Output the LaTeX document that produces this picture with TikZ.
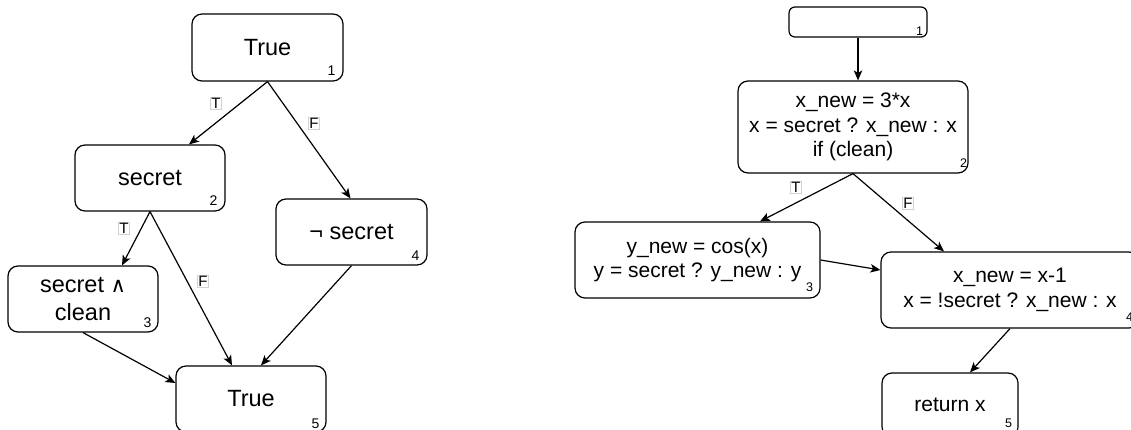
\documentclass[tikz,border=0pt]{standalone}
\usepackage{fontspec}
\setmainfont{Liberation Sans}
\newfontfamily\symfont{DejaVu Sans}
\usetikzlibrary{arrows.meta}

\tikzset{
  blk/.style={draw, rounded corners=10pt, line width=1.2pt, inner sep=0pt,
              align=center},
  lblk/.style={blk, minimum width=150pt, minimum height=66pt,
               font=\fontsize{23.5}{28}\selectfont},
  rblk/.style={blk, font=\fontsize{21}{24.5}\selectfont},
  idx/.style={inner sep=0pt, font=\fontsize{14}{14}\selectfont},
  ridx/.style={inner sep=0pt, font=\fontsize{12.5}{12.5}\selectfont},
  tf/.style={draw=gray!35, line width=0.4pt, inner sep=0.8pt,
             font=\fontsize{15}{15}\selectfont},
  flow/.style={line width=1.2pt, -{Stealth[length=10pt, width=8.5pt, inset=2.5pt]}}
}

\begin{document}
\begin{tikzpicture}[x=1pt, y=-1pt]
\useasboundingbox (0,0) rectangle (1131,430);
\clip (0,0) rectangle (1131,430);

% ---- left graph: path conditions ----
\node[lblk, minimum width=151pt, minimum height=67pt] (n1) at (267.5,47.5) {True};
\node[lblk] (n2) at (150,178) {secret};
\node[lblk] (n3) at (83,299) {secret {\symfont\fontsize{21}{28}\selectfont ∧}\\clean};
\node[lblk, minimum width=151pt] (n4) at (351.5,232) {¬ secret};
\node[lblk] (n5) at (251,399) {True};

\node[idx] (n1i) at ([xshift=-12pt, yshift=11pt]n1.south east) {1};
\node[idx] (n2i) at ([xshift=-12pt, yshift=11pt]n2.south east) {2};
\node[idx] (n3i) at ([xshift=-11pt, yshift=10pt]n3.south east) {3};
\node[idx] (n4i) at ([xshift=-12pt, yshift=10pt]n4.south east) {4};
\node[idx] (n5i) at ([xshift=-11pt, yshift=9pt]n5.south east) {5};

\draw[flow] (n1.south) -- ([xshift=39pt]n2.north);
\draw[flow] (n1.south) -- ([xshift=-1pt]n4.north);
\draw[flow] (n2.south) -- ([xshift=-28pt]n2.south |- n3.north);
\draw[flow] (n2.south) -- ([xshift=-19pt]n5.north);
\draw[flow] (n3.south) -- ([yshift=16pt]n5.west);
\draw[flow] (n4.south) -- ([xshift=10pt]n5.north);

\node[tf] (t12) at (216,103) {T};
\node[tf] (f14) at (314,123) {F};
\node[tf] (t23) at (124,228) {T};
\node[tf] (f25) at (203,281) {F};

% ---- right graph: transformed program ----
\node[rblk, rounded corners=6pt, minimum width=138pt, minimum height=30pt] (r1) at (858,22) {};
\node[rblk, minimum width=230pt, minimum height=92pt] (r2) at (853,127)
  {x\_new = 3*x\\x = secret ? x\_new : x\\if (clean)};
\node[rblk, minimum width=245pt, minimum height=76pt] (r3) at (697.5,260)
  {y\_new = cos(x)\\y = secret ? y\_new : y};
\node[rblk, minimum width=258pt, minimum height=76pt] (r4) at (1010,290)
  {x\_new = x-1\\x = !secret ? x\_new : x};
\node[rblk, minimum width=136pt, minimum height=64pt] (r5) at (950,405) {return x};

\node[ridx] (r1i) at ([xshift=-8pt, yshift=6pt]r1.south east) {1};
\node[ridx] (r2i) at ([xshift=-5pt, yshift=10pt]r2.south east) {2};
\node[ridx] (r3i) at ([xshift=-11pt, yshift=11pt]r3.south east) {3};
\node[ridx] (r4i) at ([xshift=-10pt, yshift=11pt]r4.south east) {4};
\node[ridx] (r5i) at ([xshift=-10pt, yshift=14pt]r5.south east) {5};

\draw[flow] (r1.south) -- (r1.south |- r2.north);
\draw[flow] (r2.south) -- ([xshift=62.5pt]r3.north);
\draw[flow] (r2.south) -- ([xshift=-66pt]r4.north);
\draw[flow] (r3.east) -- ([yshift=20pt]r4.west);
\draw[flow] (r4.south) -- ([xshift=20pt]r5.north);

\node[tf] (t23r) at (796,187) {T};
\node[tf] (f24r) at (908,203) {F};
\end{tikzpicture}
\end{document}
